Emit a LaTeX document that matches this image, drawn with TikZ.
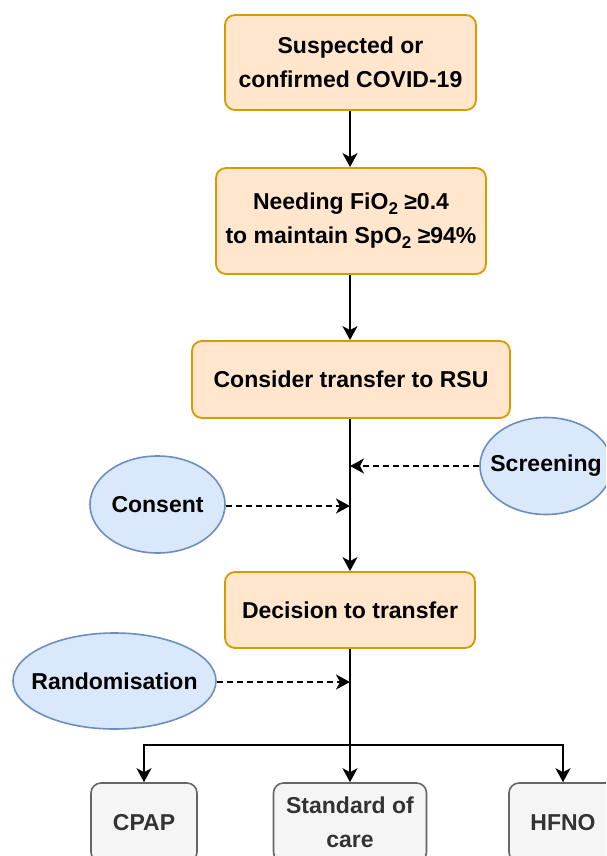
\documentclass[tikz,border=0pt]{standalone}
\usepackage{fontspec}
\setmainfont{Liberation Sans}
\usetikzlibrary{arrows.meta,shapes.geometric}
\definecolor{ofill}{HTML}{FFE6CC}
\definecolor{odraw}{HTML}{D79B00}
\definecolor{bfill}{HTML}{DAE8FC}
\definecolor{bdraw}{HTML}{6C8EBF}
\definecolor{gfill}{HTML}{F5F5F5}
\definecolor{gdraw}{HTML}{666666}
\definecolor{gtext}{HTML}{333333}
\newcommand\subtwo{\raisebox{-5pt}{\fontsize{17}{17}\selectfont 2}}
\begin{document}
\begin{tikzpicture}[x=1pt,y=-1pt,
  font=\fontsize{23}{34}\selectfont\bfseries,
  obox/.style={draw=odraw, fill=ofill, line width=1.8pt, rounded corners=10pt, inner sep=0pt, align=center},
  bell/.style={ellipse, draw=bdraw, fill=bfill, line width=1.6pt, inner sep=0pt},
  etext/.style={inner sep=0pt},
  gbox/.style={draw=gdraw, fill=gfill, line width=1.6pt, rounded corners=10pt, inner sep=0pt, align=center, text=gtext},
  arr/.style={line width=1.8pt, -{Stealth[length=14pt,width=15pt,inset=4pt]}},
  darr/.style={arr, line width=1.5pt, dash pattern=on 6pt off 4pt}
]
\useasboundingbox (0,0) rectangle (606,856);
\clip (0,0) rectangle (606,856);
\fill[white] (0,0) rectangle (606,856);

\node[obox, minimum width=251pt, minimum height=95pt] (b1) at (350.5,62.5) {Suspected or\\confirmed COVID-19};
\node[obox, minimum width=270pt, minimum height=106pt] (b2) at (351,221) {Needing FiO\subtwo\ ≥0.4\\to maintain SpO\subtwo\ ≥94\%};
\node[obox, minimum width=318pt, minimum height=77pt] (b3) at (351,379.5) {Consider transfer to RSU};
\node[obox, minimum width=250pt, minimum height=76pt] (b4) at (350,610) {Decision to transfer};

\node[bell, minimum width=135pt, minimum height=97pt] (con) at (157.5,504.5) {};
\node[etext] at (con.center) {Consent};
\node[bell, minimum width=132pt, minimum height=97pt] (scr) at (546,466) {};
\node[etext] at (scr.center) {Screening};
\node[bell, minimum width=203pt, minimum height=96pt] (ran) at (114.5,681) {};
\node[etext] at (ran.center) {Randomisation};

\node[gbox, minimum width=106pt, minimum height=79pt] (cpap) at (144,822.5) {CPAP};
\node[gbox, minimum width=153pt, minimum height=79pt] (soc) at (350,822.5) {Standard of\\care};
\node[gbox, minimum width=108pt, minimum height=79pt] (hfno) at (563,822.5) {HFNO};

\coordinate (s1) at (350,466);
\coordinate (c1) at (350,506);
\coordinate (r1) at (350,682);
\coordinate (br) at (350,745);

\draw[arr] (b1.south -| 350,0) -- (b2.north -| 350,0);
\draw[arr] (b2.south -| 350,0) -- (b3.north -| 350,0);
\draw[arr] (b3.south -| 350,0) -- (b4.north -| 350,0);
\draw[darr] (scr.west) -- (s1);
\draw[darr] (con.east |- c1) -- (c1);
\draw[darr] (ran.east |- r1) -- (r1);
\draw[arr] (b4.south) -- (soc.north -| 350,0);
\draw[arr] (br) -| (cpap.north);
\draw[arr] (br) -| (hfno.north);
\end{tikzpicture}
\end{document}
